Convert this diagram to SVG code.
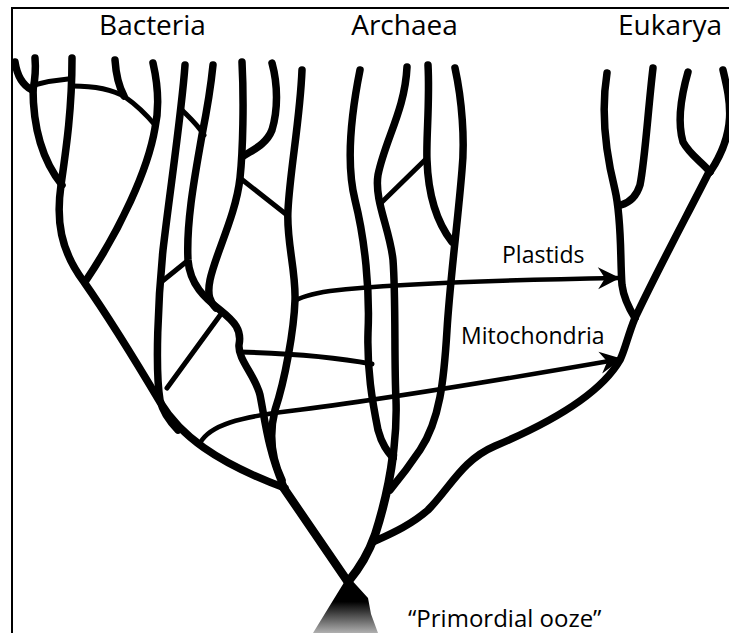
<svg xmlns="http://www.w3.org/2000/svg" width="729" height="633" viewBox="0 0 729 633">
<defs>
<style>
.br{fill:none;stroke:#000;stroke-width:7.5;stroke-linecap:round;stroke-linejoin:round}
.tk{fill:none;stroke:#000;stroke-width:8.5;stroke-linecap:round;stroke-linejoin:round}
.ln{fill:none;stroke:#000;stroke-width:5;stroke-linecap:round}
.ar{fill:none;stroke:#000;stroke-width:4.5;stroke-linecap:butt}
.lab{font-family:"Open Sans","Noto Sans",sans-serif;fill:#000}
</style>
<marker id="ah" viewBox="-24 -13 26 26" markerWidth="26" markerHeight="26" markerUnits="userSpaceOnUse" refX="0" refY="0" orient="auto">
<path d="M1,0 L-21,-11 L-14,0 L-21,11 Z" fill="#000"/>
</marker>
<linearGradient id="ooze" x1="0" y1="0" x2="0" y2="1">
<stop offset="0" stop-color="#000"/>
<stop offset="0.45" stop-color="#000"/>
<stop offset="1" stop-color="#b0b0b0"/>
</linearGradient>
</defs>
<rect width="729" height="633" fill="#fff"/>
<path d="M12,633 L12,8 L729,8" fill="none" stroke="#000" stroke-width="2"/>

<g id="labels" class="lab">
<text x="152.5" y="35" font-size="28" text-anchor="middle">Bacteria</text>
<text x="404.5" y="35" font-size="28" text-anchor="middle">Archaea</text>
<text x="670" y="35" font-size="28" text-anchor="middle">Eukarya</text>
<text x="502" y="263" font-size="23">Plastids</text>
<text x="461" y="344" font-size="23">Mitochondria</text>
<text x="408" y="627" font-size="24">“Primordial ooze”</text>
</g>

<g id="ooze">
<path d="M348,576 L313,633 L378,633 L371,614 L368,598 Z" fill="url(#ooze)"/>
</g>

<g id="bacteria">
<path class="br" d="M15,62 C17,75 22,85 32,90"/>
<path class="br" d="M35,58 C36,70 35,80 33,90"/>
<path class="br" d="M33,88 C33,125 42,160 62,185"/>
<path class="ln" d="M34,85 C45,82 56,80 68,79"/>
<path class="br" d="M72,58 C72,110 66,150 61,185 C56,220 60,250 84,282 C105,312 135,360 160,402 C180,435 215,462 285,488"/>
<path class="br" d="M115,60 C116,75 118,85 124,96"/>
<path class="ln" d="M72,86 C95,86 112,89 125,97 C135,104 145,113 155,125"/>
<path class="br" d="M153,63 C158,85 160,105 155,128 C148,170 120,230 85,282"/>
<path class="br" d="M185,65 C182,110 170,190 163,250 C158,300 155,370 160,400 C163,413 170,422 178,430"/>
<path class="ln" d="M182,110 C190,118 198,125 204,135"/>
<path class="br" d="M213,65 C210,95 205,120 202,135 C196,170 186,220 188,260 C190,285 205,298 220,310 C235,322 242,330 239,345 C238,360 255,375 260,395 C265,420 268,450 283,485"/>
<path class="br" d="M242,62 C244,100 243,150 240,178 C236,215 215,255 210,280 C207,295 210,302 216,308"/>
<path class="br" d="M272,63 C278,85 278,110 272,130 C266,145 252,150 242,157"/>
<path class="ln" d="M240,178 L287,215"/>
<path class="br" d="M302,70 C300,120 290,170 288,210 C286,240 296,270 295,300 C294,330 285,380 275,410 C270,430 270,455 282,480"/>
<path class="ln" d="M160,283 L186,262"/>
<path class="ln" d="M221,314 L167,388"/>
<path class="ln" d="M240,352 C280,353 330,356 372,364"/>
</g>

<g id="archaea">
<path class="br" d="M360,70 C352,110 345,160 355,200 C365,240 370,290 368,333 C367,370 372,400 378,430 C382,445 388,452 393,458"/>
<path class="br" d="M407,67 C405,110 385,140 378,175 C374,200 390,230 393,260 C396,300 394,360 396,400 C397,430 394,445 393,458"/>
<path class="br" d="M428,65 C430,100 426,140 427,160 C428,190 435,220 452,242"/>
<path class="ln" d="M427,158 L382,202"/>
<path class="br" d="M455,68 C462,100 465,140 462,170 C458,220 450,280 447,330 C444,380 440,420 420,450 C410,465 400,478 390,490"/>
</g>

<g id="eukarya">
<path class="br" d="M607,73 C601,110 605,150 615,190 C622,220 620,260 622,285 C624,300 630,310 635,318"/>
<path class="br" d="M653,68 C648,110 645,160 640,185 C636,198 628,203 621,205"/>
<path class="br" d="M688,72 C680,100 678,125 683,142 C690,155 702,162 710,172"/>
<path class="br" d="M723,70 C730,100 738,130 710,172"/>
<path class="br" d="M710,170 C690,210 660,265 635,318"/>
<path class="br" d="M635,318 C628,335 625,350 620,360 C600,395 545,425 495,446 C462,460 450,488 428,510 C410,526 388,535 373,542"/>
</g>

<g id="trunk">
<path class="tk" d="M283,487 L348,582"/>
<path class="tk" d="M393,455 C390,480 383,510 375,535 C368,555 358,570 348,582"/>
</g>

<g id="connectors">
<path class="ar" marker-end="url(#ah)" d="M293,302 C300,297 310,294 330,291 C400,283 500,280 619,278"/>
<path class="ar" marker-end="url(#ah)" d="M200,443 C210,425 240,417 290,411 C380,400 500,380 621,359"/>
</g>
</svg>
